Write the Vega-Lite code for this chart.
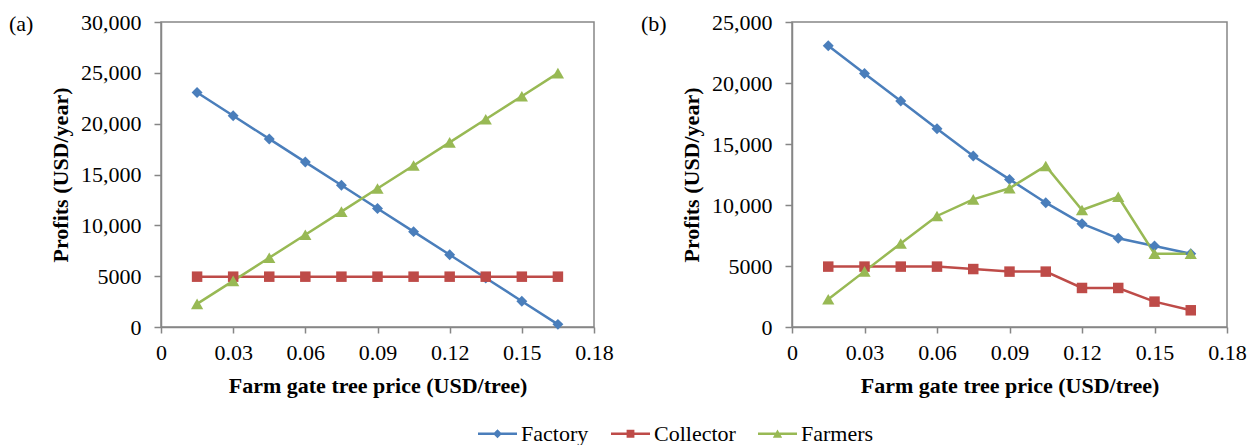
{
  "$schema": "https://vega.github.io/schema/vega-lite/v6.json",
  "padding": {"left": 8, "top": 10, "right": 5, "bottom": 0},
  "background": "white",
  "config": {
    "font": "Liberation Serif",
    "view": {"stroke": "#868686", "strokeWidth": 1.5},
    "axis": {
      "grid": false,
      "domainColor": "#868686",
      "domainWidth": 1.5,
      "tickColor": "#868686",
      "tickWidth": 1.5,
      "labelFont": "Liberation Serif",
      "labelFontSize": 22,
      "labelColor": "black",
      "labelFlush": false,
      "labelOverlap": false,
      "labelBound": false,
      "titleFont": "Liberation Serif",
      "titleFontSize": 22,
      "titleFontWeight": "bold",
      "titleColor": "black"
    },
    "axisX": {"tickSize": 6, "labelPadding": 9, "titlePadding": 12},
    "axisY": {"tickSize": 7, "labelPadding": 13, "titlePadding": 8},
    "legend": {"labelFont": "Liberation Serif", "labelFontSize": 22, "labelColor": "black"},
    "title": {"font": "Liberation Serif", "fontSize": 22, "fontWeight": "normal", "color": "black", "anchor": "start", "frame": "group", "baseline": "alphabetic", "offset": 0}
  },
  "data": {"values": [
    {"panel": "a", "price": 0.015, "series": "Factory", "profit": 23060},
    {"panel": "a", "price": 0.03, "series": "Factory", "profit": 20780},
    {"panel": "a", "price": 0.045, "series": "Factory", "profit": 18500},
    {"panel": "a", "price": 0.06, "series": "Factory", "profit": 16220},
    {"panel": "a", "price": 0.075, "series": "Factory", "profit": 13940},
    {"panel": "a", "price": 0.09, "series": "Factory", "profit": 11660},
    {"panel": "a", "price": 0.105, "series": "Factory", "profit": 9380},
    {"panel": "a", "price": 0.12, "series": "Factory", "profit": 7100},
    {"panel": "a", "price": 0.135, "series": "Factory", "profit": 4820},
    {"panel": "a", "price": 0.15, "series": "Factory", "profit": 2540},
    {"panel": "a", "price": 0.165, "series": "Factory", "profit": 260},
    {"panel": "a", "price": 0.015, "series": "Collector", "profit": 4950},
    {"panel": "a", "price": 0.03, "series": "Collector", "profit": 4950},
    {"panel": "a", "price": 0.045, "series": "Collector", "profit": 4950},
    {"panel": "a", "price": 0.06, "series": "Collector", "profit": 4950},
    {"panel": "a", "price": 0.075, "series": "Collector", "profit": 4950},
    {"panel": "a", "price": 0.09, "series": "Collector", "profit": 4950},
    {"panel": "a", "price": 0.105, "series": "Collector", "profit": 4950},
    {"panel": "a", "price": 0.12, "series": "Collector", "profit": 4950},
    {"panel": "a", "price": 0.135, "series": "Collector", "profit": 4950},
    {"panel": "a", "price": 0.15, "series": "Collector", "profit": 4950},
    {"panel": "a", "price": 0.165, "series": "Collector", "profit": 4950},
    {"panel": "a", "price": 0.015, "series": "Farmers", "profit": 2270},
    {"panel": "a", "price": 0.03, "series": "Farmers", "profit": 4540},
    {"panel": "a", "price": 0.045, "series": "Farmers", "profit": 6810},
    {"panel": "a", "price": 0.06, "series": "Farmers", "profit": 9080},
    {"panel": "a", "price": 0.075, "series": "Farmers", "profit": 11350},
    {"panel": "a", "price": 0.09, "series": "Farmers", "profit": 13620},
    {"panel": "a", "price": 0.105, "series": "Farmers", "profit": 15890},
    {"panel": "a", "price": 0.12, "series": "Farmers", "profit": 18160},
    {"panel": "a", "price": 0.135, "series": "Farmers", "profit": 20430},
    {"panel": "a", "price": 0.15, "series": "Farmers", "profit": 22700},
    {"panel": "a", "price": 0.165, "series": "Farmers", "profit": 24970},
    {"panel": "b", "price": 0.015, "series": "Factory", "profit": 23060},
    {"panel": "b", "price": 0.03, "series": "Factory", "profit": 20780},
    {"panel": "b", "price": 0.045, "series": "Factory", "profit": 18520},
    {"panel": "b", "price": 0.06, "series": "Factory", "profit": 16250},
    {"panel": "b", "price": 0.075, "series": "Factory", "profit": 14020},
    {"panel": "b", "price": 0.09, "series": "Factory", "profit": 12100},
    {"panel": "b", "price": 0.105, "series": "Factory", "profit": 10190},
    {"panel": "b", "price": 0.12, "series": "Factory", "profit": 8470},
    {"panel": "b", "price": 0.135, "series": "Factory", "profit": 7270},
    {"panel": "b", "price": 0.15, "series": "Factory", "profit": 6640},
    {"panel": "b", "price": 0.165, "series": "Factory", "profit": 6010},
    {"panel": "b", "price": 0.015, "series": "Collector", "profit": 4950},
    {"panel": "b", "price": 0.03, "series": "Collector", "profit": 4950},
    {"panel": "b", "price": 0.045, "series": "Collector", "profit": 4950},
    {"panel": "b", "price": 0.06, "series": "Collector", "profit": 4950},
    {"panel": "b", "price": 0.075, "series": "Collector", "profit": 4750},
    {"panel": "b", "price": 0.09, "series": "Collector", "profit": 4540},
    {"panel": "b", "price": 0.105, "series": "Collector", "profit": 4540},
    {"panel": "b", "price": 0.12, "series": "Collector", "profit": 3200},
    {"panel": "b", "price": 0.135, "series": "Collector", "profit": 3200},
    {"panel": "b", "price": 0.15, "series": "Collector", "profit": 2080},
    {"panel": "b", "price": 0.165, "series": "Collector", "profit": 1370},
    {"panel": "b", "price": 0.015, "series": "Farmers", "profit": 2270},
    {"panel": "b", "price": 0.03, "series": "Farmers", "profit": 4560},
    {"panel": "b", "price": 0.045, "series": "Farmers", "profit": 6850},
    {"panel": "b", "price": 0.06, "series": "Farmers", "profit": 9100},
    {"panel": "b", "price": 0.075, "series": "Farmers", "profit": 10460},
    {"panel": "b", "price": 0.09, "series": "Farmers", "profit": 11370},
    {"panel": "b", "price": 0.105, "series": "Farmers", "profit": 13200},
    {"panel": "b", "price": 0.12, "series": "Farmers", "profit": 9590},
    {"panel": "b", "price": 0.135, "series": "Farmers", "profit": 10680},
    {"panel": "b", "price": 0.15, "series": "Farmers", "profit": 6010},
    {"panel": "b", "price": 0.165, "series": "Farmers", "profit": 6000}
  ]},
  "hconcat": [
    {
      "width": 433,
      "height": 305,
      "title": {"text": "(a)", "dx": -152, "dy": 29},
      "transform": [{"filter": "datum.panel === 'a'"}],
      "encoding": {
        "x": {"field": "price", "type": "quantitative", "scale": {"domain": [0, 0.18], "nice": false, "zero": false},
          "axis": {"title": "Farm gate tree price (USD/tree)", "values": [0, 0.03, 0.06, 0.09, 0.12, 0.15, 0.18], "labelExpr": "datum.value === 0 ? '0' : format(datum.value, '.2f')"}},
        "y": {"field": "profit", "type": "quantitative", "scale": {"domain": [0, 30000], "nice": false},
          "axis": {"title": "Profits (USD/year)", "values": [0, 5000, 10000, 15000, 20000, 25000, 30000], "labelExpr": "datum.value >= 10000 ? format(datum.value, ',') : format(datum.value, 'd')"}},
        "color": {"field": "series", "type": "nominal", "sort": ["Factory", "Collector", "Farmers"],
          "scale": {"domain": ["Factory", "Collector", "Farmers"], "range": ["#4A7EBB", "#BE4B48", "#98B954"]},
          "legend": {"orient": "none", "legendX": 317, "legendY": 392, "direction": "horizontal", "columns": 3, "title": null,
            "labelFont": "Liberation Serif", "labelFontSize": 22, "labelColor": "black", "labelOffset": 4, "columnPadding": 22,
            "symbolSize": 1521, "symbolStrokeWidth": 0,
            "encode": {"symbols": {"update": {
              "shape": {"signal": "datum.value === 'Factory' ? 'M-1,-0.06H1V0.06H-1Z M-0.23,0L0,-0.23L0.23,0L0,0.23Z' : datum.value === 'Collector' ? 'M-1,-0.06H1V0.06H-1Z M-0.2,-0.2H0.2V0.2H-0.2Z' : 'M-1,-0.06H1V0.06H-1Z M-0.24,0.2L0,-0.22L0.24,0.2Z'"},
              "fill": {"signal": "datum.value === 'Factory' ? '#4A7EBB' : datum.value === 'Collector' ? '#BE4B48' : '#98B954'"},
              "stroke": {"value": "transparent"},
              "strokeWidth": {"value": 0},
              "size": {"value": 1521},
              "opacity": {"value": 1}
            }}}}
        }
      },
      "layer": [
        {"mark": {"type": "line", "strokeWidth": 2.5}},
        {"transform": [{"filter": "datum.series === 'Factory'"}], "mark": {"type": "point", "shape": "diamond", "size": 120, "filled": true, "opacity": 1}},
        {"transform": [{"filter": "datum.series === 'Collector'"}], "mark": {"type": "point", "shape": "square", "size": 110, "filled": true, "opacity": 1}},
        {"transform": [{"filter": "datum.series === 'Farmers'"}], "mark": {"type": "point", "shape": "triangle-up", "size": 150, "filled": true, "opacity": 1}}
      ]
    },
    {
      "width": 435,
      "height": 305,
      "title": {"text": "(b)", "dx": -151, "dy": 29},
      "transform": [{"filter": "datum.panel === 'b'"}],
      "encoding": {
        "x": {"field": "price", "type": "quantitative", "scale": {"domain": [0, 0.18], "nice": false, "zero": false},
          "axis": {"title": "Farm gate tree price (USD/tree)", "values": [0, 0.03, 0.06, 0.09, 0.12, 0.15, 0.18], "labelExpr": "datum.value === 0 ? '0' : format(datum.value, '.2f')"}},
        "y": {"field": "profit", "type": "quantitative", "scale": {"domain": [0, 25000], "nice": false},
          "axis": {"title": "Profits (USD/year)", "values": [0, 5000, 10000, 15000, 20000, 25000], "labelExpr": "datum.value >= 10000 ? format(datum.value, ',') : format(datum.value, 'd')"}},
        "color": {"field": "series", "type": "nominal", "sort": ["Factory", "Collector", "Farmers"],
          "scale": {"domain": ["Factory", "Collector", "Farmers"], "range": ["#4A7EBB", "#BE4B48", "#98B954"]},
          "legend": {"orient": "none", "legendX": 317, "legendY": 392, "direction": "horizontal", "columns": 3, "title": null,
            "labelFont": "Liberation Serif", "labelFontSize": 22, "labelColor": "black", "labelOffset": 4, "columnPadding": 22,
            "symbolSize": 1521, "symbolStrokeWidth": 0,
            "encode": {"symbols": {"update": {
              "shape": {"signal": "datum.value === 'Factory' ? 'M-1,-0.06H1V0.06H-1Z M-0.23,0L0,-0.23L0.23,0L0,0.23Z' : datum.value === 'Collector' ? 'M-1,-0.06H1V0.06H-1Z M-0.2,-0.2H0.2V0.2H-0.2Z' : 'M-1,-0.06H1V0.06H-1Z M-0.24,0.2L0,-0.22L0.24,0.2Z'"},
              "fill": {"signal": "datum.value === 'Factory' ? '#4A7EBB' : datum.value === 'Collector' ? '#BE4B48' : '#98B954'"},
              "stroke": {"value": "transparent"},
              "strokeWidth": {"value": 0},
              "size": {"value": 1521},
              "opacity": {"value": 1}
            }}}}
        }
      },
      "layer": [
        {"mark": {"type": "line", "strokeWidth": 2.5}},
        {"transform": [{"filter": "datum.series === 'Factory'"}], "mark": {"type": "point", "shape": "diamond", "size": 120, "filled": true, "opacity": 1}},
        {"transform": [{"filter": "datum.series === 'Collector'"}], "mark": {"type": "point", "shape": "square", "size": 110, "filled": true, "opacity": 1}},
        {"transform": [{"filter": "datum.series === 'Farmers'"}], "mark": {"type": "point", "shape": "triangle-up", "size": 150, "filled": true, "opacity": 1}}
      ]
    }
  ],
  "spacing": 198,
  "bounds": "flush"
}
